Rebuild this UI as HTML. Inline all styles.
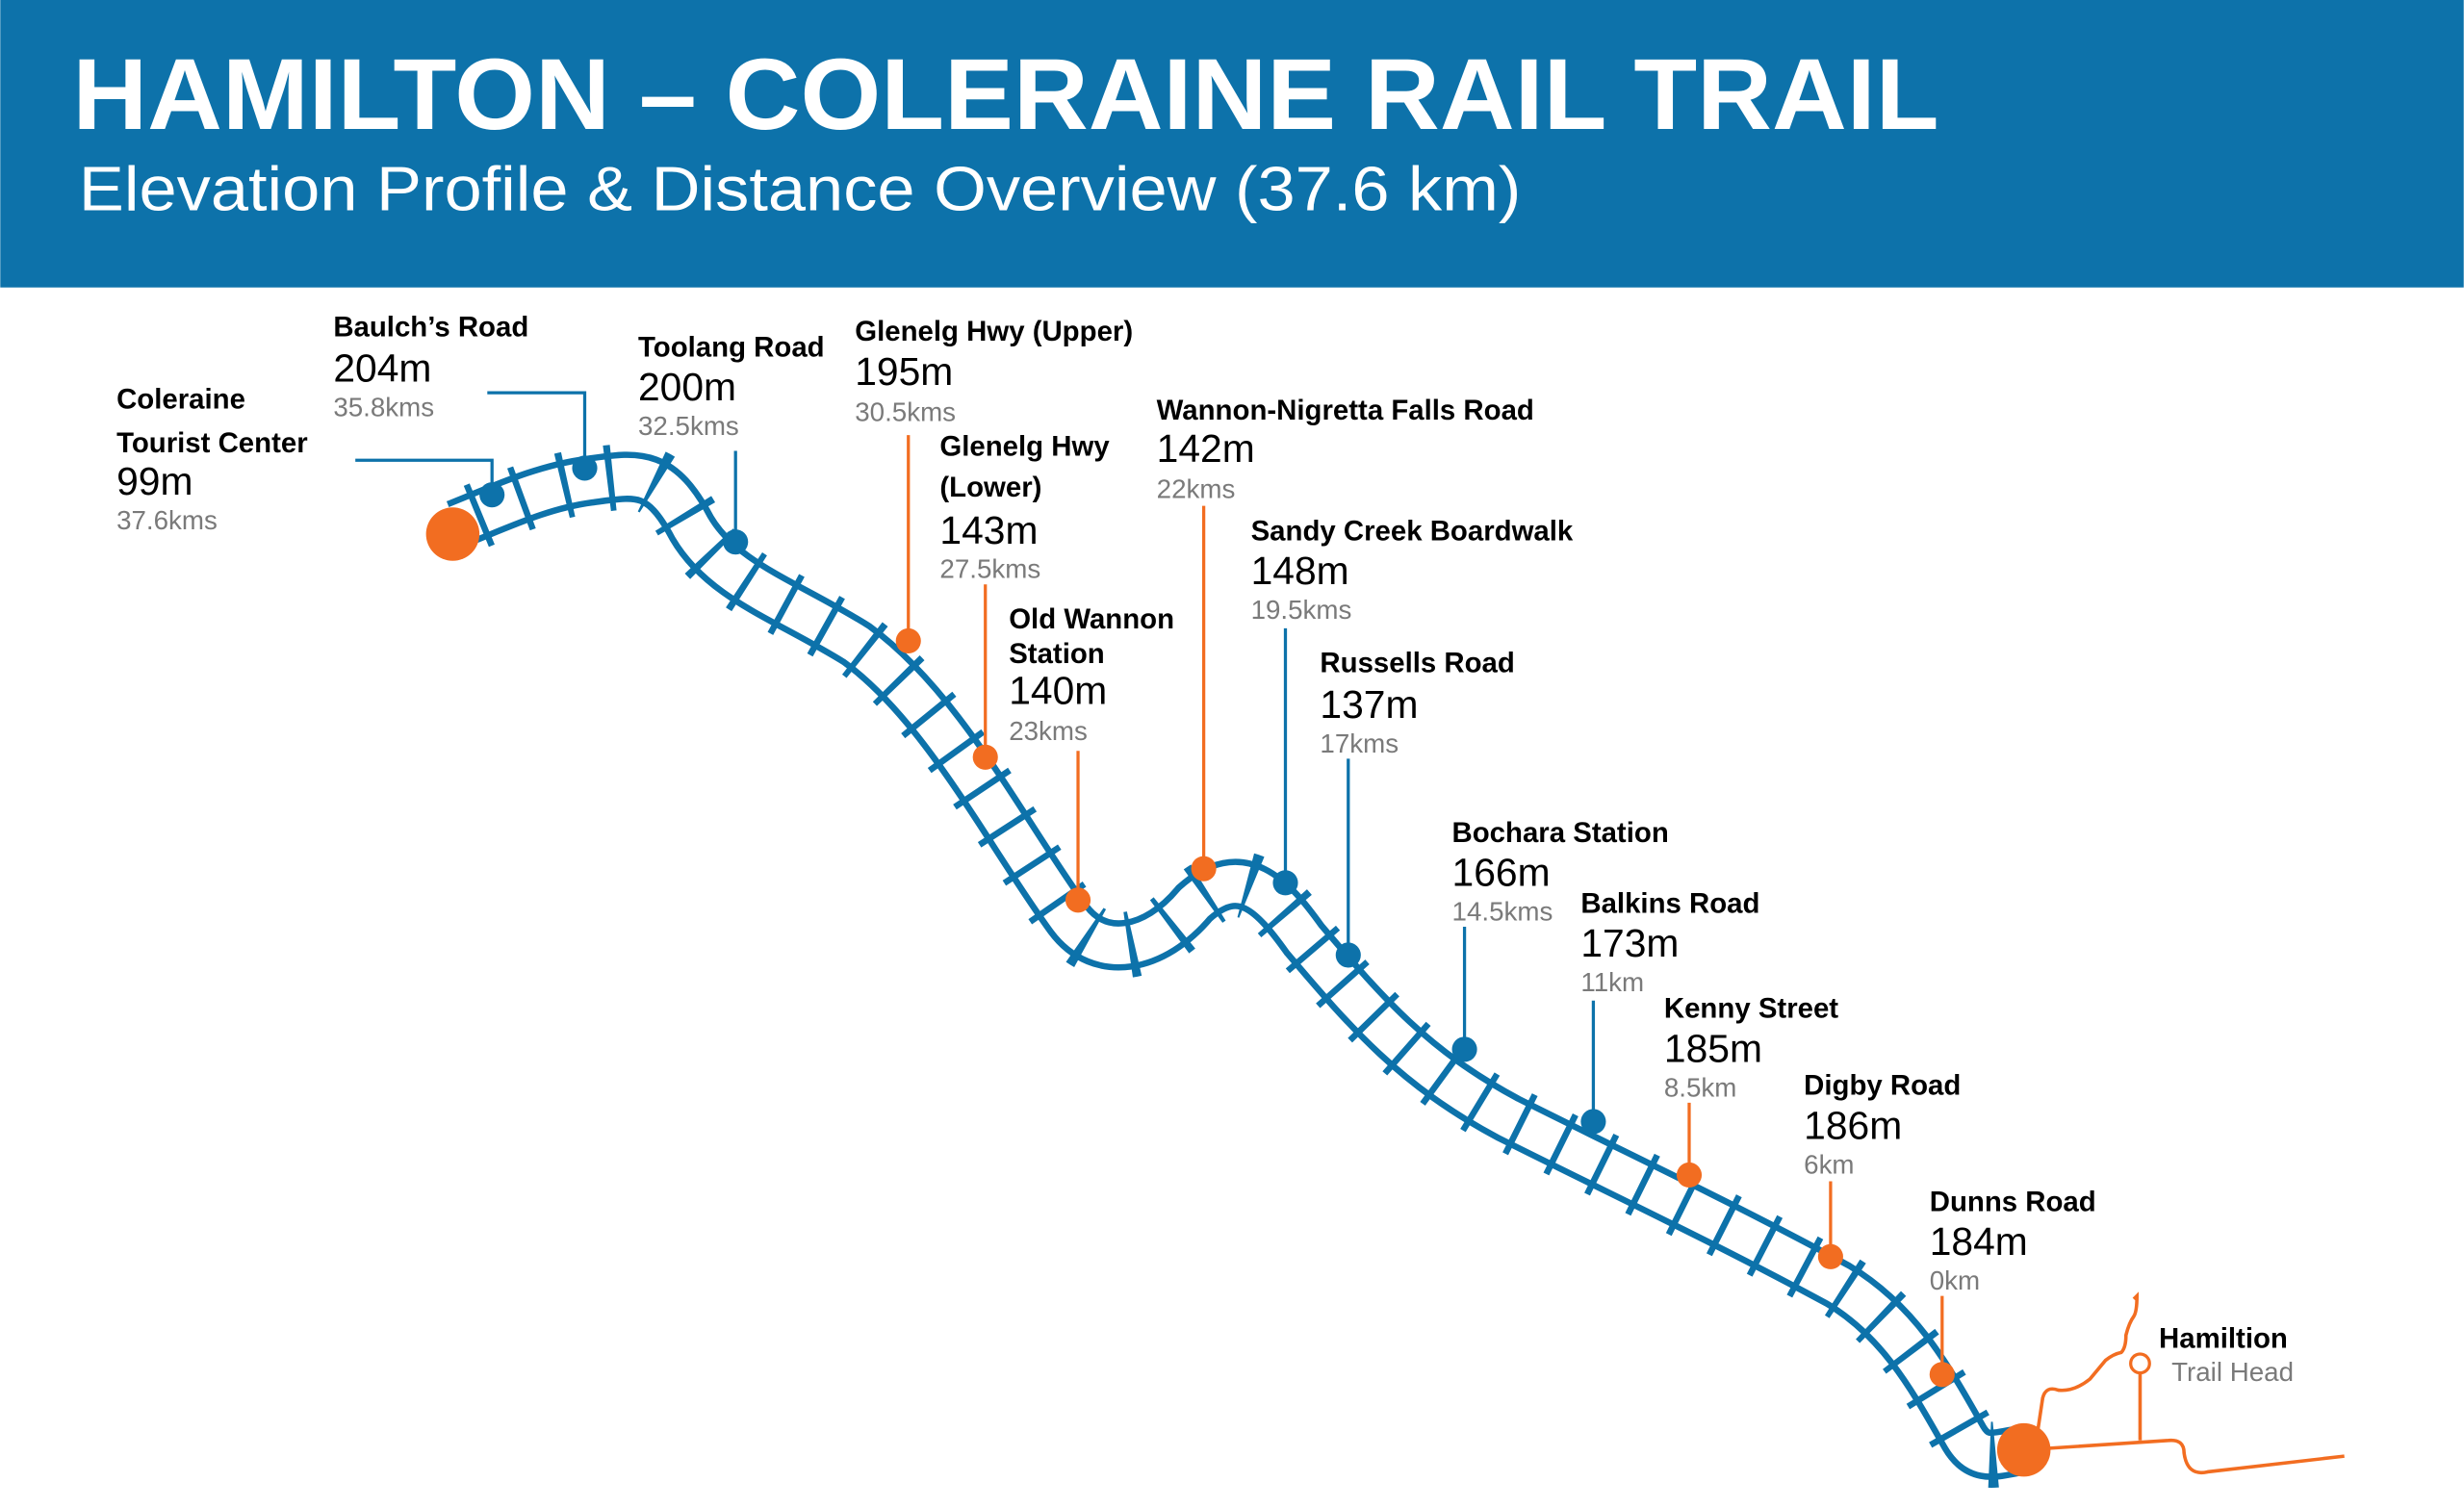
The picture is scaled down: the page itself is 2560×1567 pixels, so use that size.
<!DOCTYPE html>
<html><head><meta charset="utf-8"><style>
html,body{margin:0;padding:0;background:#fff;}
svg{display:block;}
text{font-family:"Liberation Sans",sans-serif;}
.n{font-weight:bold;font-size:18px;fill:#000;}
.e{font-size:25px;fill:#000;}
.k{font-size:17px;fill:#7a7a7a;}
</style></head><body>
<svg width="2560" height="1567" viewBox="0 0 1568 960" xmlns="http://www.w3.org/2000/svg">
<defs>
<path id="t" d="M290,334 C320,322 345,310 375,306 S420,298 440,336 C460,370 500,382 545,410 C600,450 640,530 680,585 C700,612 735,605 760,575 C790,548 810,570 830,598 C870,645 900,680 960,712 C1040,752 1100,780 1170,818 C1210,842 1230,880 1250,915 C1260,932 1272,925 1288,923"/>
</defs>
<rect x="0" y="0" width="1568" height="183" fill="#0d72aa"/>
<text x="46" y="82" fill="#fff" font-weight="bold" font-size="64" textLength="1188" lengthAdjust="spacingAndGlyphs">HAMILTON – COLERAINE RAIL TRAIL</text>
<text x="50" y="134" fill="#fff" font-size="40" textLength="918" lengthAdjust="spacingAndGlyphs">Elevation Profile &amp; Distance Overview (37.6 km)</text>

<g fill="none" stroke="#f26d21" stroke-width="2.2">
<path d="M1288,923 L1380,917 Q1390,916 1390,925 Q1392,940 1405,937 L1492,927"/>
<path d="M1362,917 L1362,874"/>
<path d="M1297,910 L1300,890 Q1302,882 1310,885 Q1320,886 1330,878 L1340,866 Q1345,862 1350,861 Q1353,858 1353,850 Q1355,842 1358,838 Q1360,835 1360,825 L1358,827"/>
</g>
<circle cx="1362" cy="868" r="6" fill="#fff" stroke="#f26d21" stroke-width="2"/>

<g fill="none">
<use href="#t" stroke="#0d72aa" stroke-width="32"/>
<use href="#t" stroke="#fff" stroke-width="24"/>
<use href="#t" stroke="#0d72aa" stroke-width="42" stroke-dasharray="4 25" stroke-dashoffset="-14"/>
</g>

<g fill="none" stroke-width="2">
<path d="M226,293 H313 V315" stroke="#0d72aa"/>
<path d="M310,250 H372 V298" stroke="#0d72aa"/>
<path d="M468,287 V345" stroke="#0d72aa"/>
<path d="M578,277 V408" stroke="#f26d21"/>
<path d="M627,372 V482" stroke="#f26d21"/>
<path d="M686,478 V573" stroke="#f26d21"/>
<path d="M766,322 V553" stroke="#f26d21"/>
<path d="M818,400 V562" stroke="#0d72aa"/>
<path d="M858,483 V608" stroke="#0d72aa"/>
<path d="M932,590 V668" stroke="#0d72aa"/>
<path d="M1014,637 V714" stroke="#0d72aa"/>
<path d="M1075,702 V748" stroke="#f26d21"/>
<path d="M1165,752 V800" stroke="#f26d21"/>
<path d="M1236,825 V875" stroke="#f26d21"/>
</g>
<g>
<circle cx="313" cy="315" r="8" fill="#0d72aa"/>
<circle cx="372" cy="298" r="8" fill="#0d72aa"/>
<circle cx="468" cy="345" r="8" fill="#0d72aa"/>
<circle cx="578" cy="408" r="8" fill="#f26d21"/>
<circle cx="627" cy="482" r="8" fill="#f26d21"/>
<circle cx="686" cy="573" r="8" fill="#f26d21"/>
<circle cx="766" cy="553" r="8" fill="#f26d21"/>
<circle cx="818" cy="562" r="8" fill="#0d72aa"/>
<circle cx="858" cy="608" r="8" fill="#0d72aa"/>
<circle cx="932" cy="668" r="8" fill="#0d72aa"/>
<circle cx="1014" cy="714" r="8" fill="#0d72aa"/>
<circle cx="1075" cy="748" r="8" fill="#f26d21"/>
<circle cx="1165" cy="800" r="8" fill="#f26d21"/>
<circle cx="1236" cy="875" r="8" fill="#f26d21"/>
<circle cx="288" cy="340" r="17" fill="#f26d21"/>
<circle cx="1288" cy="923" r="17" fill="#f26d21"/>
</g>

<text class="n" x="74" y="260">Coleraine</text>
<text class="n" x="74" y="288">Tourist Center</text>
<text class="e" x="74" y="315">99m</text>
<text class="k" x="74" y="337">37.6kms</text>

<text class="n" x="212" y="214">Baulch’s Road</text>
<text class="e" x="212" y="243">204m</text>
<text class="k" x="212" y="265">35.8kms</text>

<text class="n" x="406" y="227">Toolang Road</text>
<text class="e" x="406" y="255">200m</text>
<text class="k" x="406" y="277">32.5kms</text>

<text class="n" x="544" y="217">Glenelg Hwy (Upper)</text>
<text class="e" x="544" y="245">195m</text>
<text class="k" x="544" y="268">30.5kms</text>

<text class="n" x="598" y="290">Glenelg Hwy</text>
<text class="n" x="598" y="316">(Lower)</text>
<text class="e" x="598" y="346">143m</text>
<text class="k" x="598" y="368">27.5kms</text>

<text class="n" x="642" y="400">Old Wannon</text>
<text class="n" x="642" y="422">Station</text>
<text class="e" x="642" y="448">140m</text>
<text class="k" x="642" y="471">23kms</text>

<text class="n" x="736" y="267">Wannon-Nigretta Falls Road</text>
<text class="e" x="736" y="294">142m</text>
<text class="k" x="736" y="317">22kms</text>

<text class="n" x="796" y="344">Sandy Creek Boardwalk</text>
<text class="e" x="796" y="372">148m</text>
<text class="k" x="796" y="394">19.5kms</text>

<text class="n" x="840" y="428">Russells Road</text>
<text class="e" x="840" y="457">137m</text>
<text class="k" x="840" y="479">17kms</text>

<text class="n" x="924" y="536">Bochara Station</text>
<text class="e" x="924" y="564">166m</text>
<text class="k" x="924" y="586">14.5kms</text>

<text class="n" x="1006" y="581">Balkins Road</text>
<text class="e" x="1006" y="609">173m</text>
<text class="k" x="1006" y="631">11km</text>

<text class="n" x="1059" y="648">Kenny Street</text>
<text class="e" x="1059" y="676">185m</text>
<text class="k" x="1059" y="698">8.5km</text>

<text class="n" x="1148" y="697">Digby Road</text>
<text class="e" x="1148" y="725">186m</text>
<text class="k" x="1148" y="747">6km</text>

<text class="n" x="1228" y="771">Dunns Road</text>
<text class="e" x="1228" y="799">184m</text>
<text class="k" x="1228" y="821">0km</text>

<text class="n" x="1374" y="858" font-size="20">Hamiltion</text>
<text class="k" x="1382" y="879" font-size="19">Trail Head</text>
</svg>
</body></html>
